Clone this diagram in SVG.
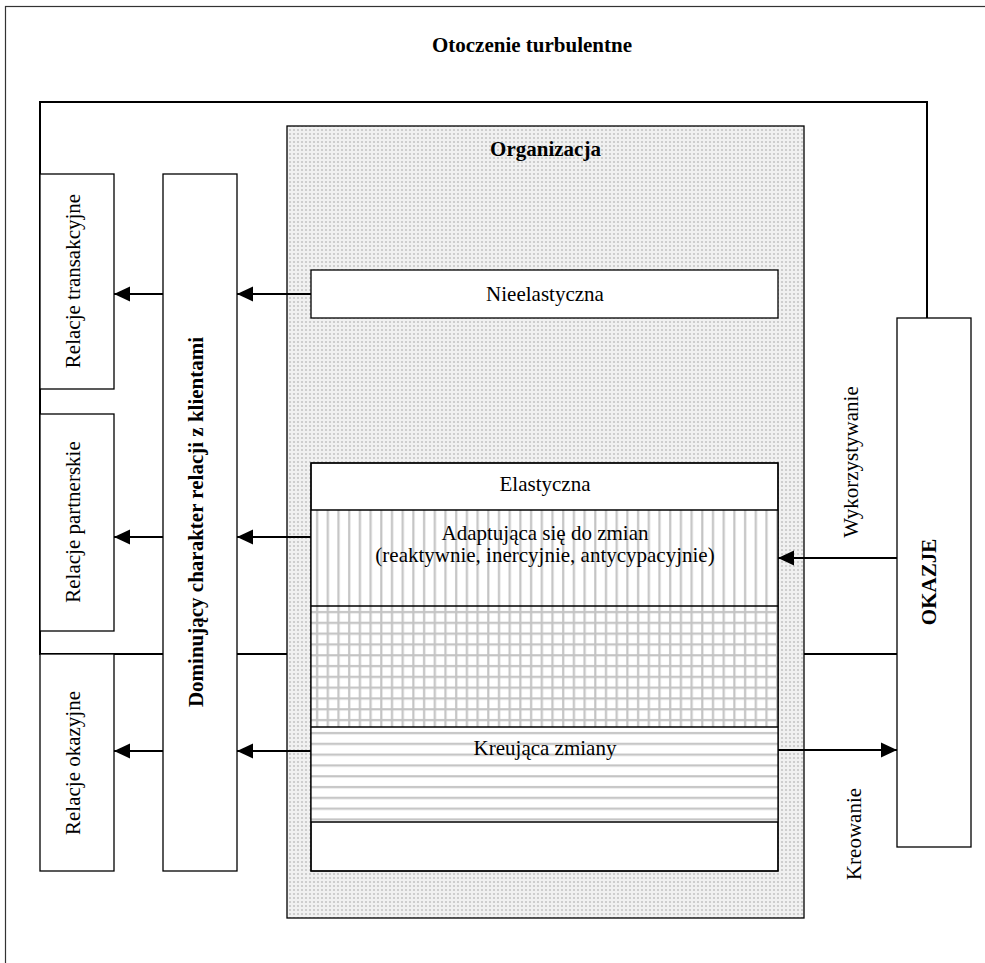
<svg xmlns="http://www.w3.org/2000/svg" width="985" height="963" viewBox="0 0 985 963">
  <style>
    .box { fill: #ffffff; stroke: #000000; stroke-width: 1.3; }
    .frame { fill: none; stroke: #333333; stroke-width: 1.2; }
    .env { fill: none; stroke: #000000; stroke-width: 2; }
    .sec { stroke: #000000; stroke-width: 1.3; }
    .conn { stroke: #000000; stroke-width: 2.2; fill: none; }
    text { font-family: "Liberation Serif", "Times New Roman", serif; font-size: 21px; fill: #000000; }
    .b { font-weight: bold; }
    .c { text-anchor: middle; }
  </style>
  <defs>
    <pattern id="dots" patternUnits="userSpaceOnUse" width="4" height="4">
      <rect width="4" height="4" fill="#f1f1f1"/>
      <circle cx="2" cy="2" r="1.1" fill="#c6c6c6"/>
    </pattern>
    <pattern id="vstripe" patternUnits="userSpaceOnUse" x="311" y="0" width="10.7" height="10">
      <rect width="10.7" height="10" fill="#ffffff"/>
      <rect x="5" width="2.2" height="10" fill="#c4c4c4"/>
    </pattern>
    <pattern id="grid" patternUnits="userSpaceOnUse" x="311" y="606" width="10.7" height="10.8">
      <rect width="10.7" height="10.8" fill="#ffffff"/>
      <rect x="5" width="2.2" height="10.8" fill="#c4c4c4"/>
      <rect y="5" width="10.7" height="2.2" fill="#c4c4c4"/>
    </pattern>
    <pattern id="hstripe" patternUnits="userSpaceOnUse" x="0" y="727" width="10" height="10.8">
      <rect width="10" height="10.8" fill="#ffffff"/>
      <rect y="5" width="10" height="2.2" fill="#c4c4c4"/>
    </pattern>
    <marker id="arrow" markerUnits="userSpaceOnUse" markerWidth="16" markerHeight="16" refX="16" refY="8" orient="auto">
      <path d="M0,0.5 L16,8 L0,15.5 z" fill="#000000"/>
    </marker>
  </defs>

  <!-- turbulent environment frame -->
  <g id="otoczenie">
    <rect class="frame" x="5.5" y="6.5" width="1000" height="1000"/>
    <text class="b c" x="532" y="52">Otoczenie turbulentne</text>
  </g>

  <!-- boundary enclosing relations and opportunities -->
  <g id="granica">
    <rect class="env" x="40" y="102" width="887" height="552"/>
  </g>

  <g id="relacje-transakcyjne">
    <rect class="box" x="40" y="174" width="74" height="215"/>
    <text class="c" transform="translate(80,281) rotate(-90)">Relacje transakcyjne</text>
  </g>
  <g id="relacje-partnerskie">
    <rect class="box" x="40" y="414" width="74" height="217"/>
    <text class="c" transform="translate(80,522) rotate(-90)">Relacje partnerskie</text>
  </g>
  <g id="relacje-okazyjne">
    <rect class="box" x="40" y="654" width="74" height="217"/>
    <text class="c" transform="translate(80,763) rotate(-90)">Relacje okazyjne</text>
  </g>

  <g id="dominujacy">
    <rect class="box" x="163" y="174" width="74" height="697"/>
    <text class="b c" transform="translate(203,522) rotate(-90)">Dominujący charakter relacji z klientami</text>
  </g>

  <g id="organizacja">
    <rect x="287" y="126" width="517" height="792" fill="url(#dots)" stroke="#000000" stroke-width="1.3"/>
    <text class="b c" x="545.5" y="156">Organizacja</text>
  </g>

  <g id="nieelastyczna">
    <rect class="box" x="311" y="270" width="467" height="48"/>
    <text class="c" x="545" y="301">Nieelastyczna</text>
  </g>

  <g id="elastyczna">
    <rect class="box" x="311" y="463" width="467" height="408"/>
    <rect x="311" y="510" width="467" height="96" fill="url(#vstripe)"/>
    <rect x="311" y="606" width="467" height="121" fill="url(#grid)"/>
    <rect x="311" y="727" width="467" height="95" fill="url(#hstripe)"/>
    <rect x="311" y="463" width="467" height="408" fill="none" stroke="#000000" stroke-width="1.3"/>
    <line class="sec" x1="311" y1="510" x2="778" y2="510"/>
    <line class="sec" x1="311" y1="606" x2="778" y2="606"/>
    <line class="sec" x1="311" y1="727" x2="778" y2="727"/>
    <line class="sec" x1="311" y1="822" x2="778" y2="822"/>
    <text class="c" x="545" y="491">Elastyczna</text>
    <text class="c" x="545" y="540">Adaptująca się do zmian</text>
    <text class="c" x="545" y="562">(reaktywnie, inercyjnie, antycypacyjnie)</text>
    <text class="c" x="545" y="755">Kreująca zmiany</text>
  </g>

  <g id="okazje">
    <rect class="box" x="897" y="318" width="74" height="529"/>
    <text class="b c" transform="translate(936,582) rotate(-90)">OKAZJE</text>
  </g>

  <g id="opisy">
    <text class="c" transform="translate(858,462) rotate(-90)">Wykorzystywanie</text>
    <text class="c" transform="translate(861,834) rotate(-90)">Kreowanie</text>
  </g>

  <g id="connectors">
    <line class="conn" x1="311" y1="294" x2="237" y2="294" marker-end="url(#arrow)"/>
    <line class="conn" x1="163" y1="294" x2="114" y2="294" marker-end="url(#arrow)"/>
    <line class="conn" x1="311" y1="537" x2="237" y2="537" marker-end="url(#arrow)"/>
    <line class="conn" x1="163" y1="537" x2="114" y2="537" marker-end="url(#arrow)"/>
    <line class="conn" x1="311" y1="751" x2="237" y2="751" marker-end="url(#arrow)"/>
    <line class="conn" x1="163" y1="751" x2="114" y2="751" marker-end="url(#arrow)"/>
    <line class="conn" x1="897" y1="558" x2="778" y2="558" marker-end="url(#arrow)"/>
    <line class="conn" x1="778" y1="750" x2="897" y2="750" marker-end="url(#arrow)"/>
  </g>
</svg>
